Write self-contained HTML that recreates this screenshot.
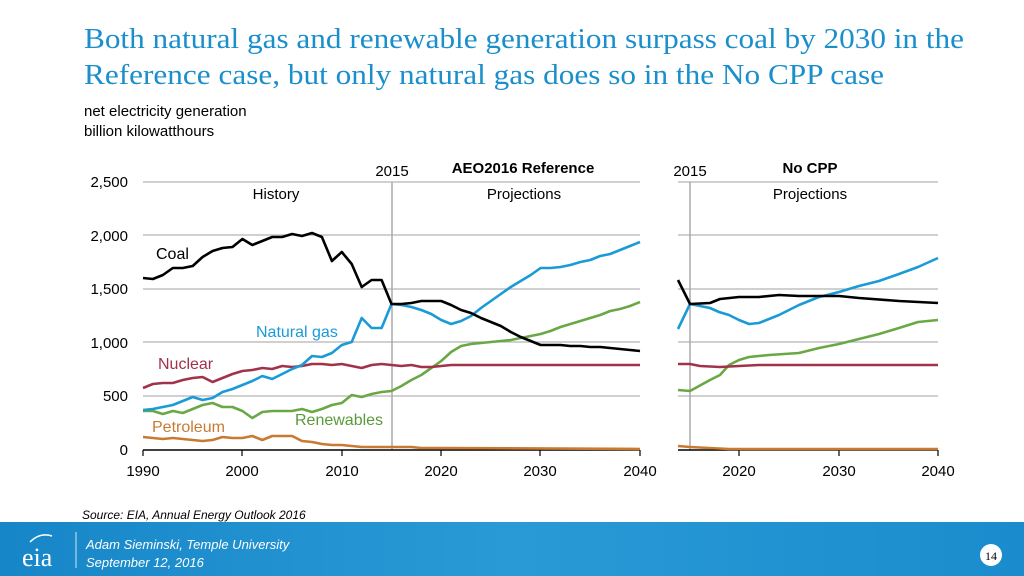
<!DOCTYPE html>
<html><head><meta charset="utf-8"><style>
html,body{margin:0;padding:0;width:1024px;height:576px;overflow:hidden;background:#fff}
svg{display:block}
text{font-family:"Liberation Sans",Arial,sans-serif}
</style></head><body>
<svg id="s" width="1024" height="576" viewBox="0 0 1024 576" xmlns="http://www.w3.org/2000/svg">
<defs>
<linearGradient id="bg" x1="0" y1="0" x2="1" y2="0">
<stop offset="0" stop-color="#1686c8"/><stop offset="0.5" stop-color="#2a9ad6"/><stop offset="1" stop-color="#1a8ccd"/>
</linearGradient>
</defs>
<text x="84" y="48" font-family="Liberation Serif,serif" font-size="29" fill="#1a8fcc" textLength="880" lengthAdjust="spacingAndGlyphs" style="font-family:'Liberation Serif',serif">Both natural gas and renewable generation surpass coal by 2030 in the</text>
<text x="84" y="84" font-family="Liberation Serif,serif" font-size="29" fill="#1a8fcc" textLength="800" lengthAdjust="spacingAndGlyphs" style="font-family:'Liberation Serif',serif">Reference case, but only natural gas does so in the No CPP case</text>
<text x="84" y="116" font-size="15" fill="#000">net electricity generation</text>
<text x="84" y="136" font-size="15" fill="#000">billion kilowatthours</text>
<g id="grid" stroke="#b4b4b4" stroke-width="1.3"></g>
<g font-size="15" fill="#000" text-anchor="end">
<text x="128" y="187">2,500</text><text x="128" y="241">2,000</text><text x="128" y="294">1,500</text>
<text x="128" y="348">1,000</text><text x="128" y="401">500</text><text x="128" y="455">0</text>
</g>
<line x1="392" y1="182" x2="392" y2="450" stroke="#aaa" stroke-width="1.5"/>
<line x1="690" y1="182" x2="690" y2="450" stroke="#aaa" stroke-width="1.5"/>
<line x1="143" y1="450" x2="640" y2="450" stroke="#000" stroke-width="1.5"/>
<line x1="678" y1="450" x2="938" y2="450" stroke="#000" stroke-width="1.5"/>
<g stroke="#000" stroke-width="1.2">
<line x1="143" y1="450" x2="143" y2="456"/><line x1="242" y1="450" x2="242" y2="456"/><line x1="342" y1="450" x2="342" y2="456"/><line x1="441" y1="450" x2="441" y2="456"/><line x1="540" y1="450" x2="540" y2="456"/><line x1="640" y1="450" x2="640" y2="456"/>
<line x1="739" y1="450" x2="739" y2="456"/><line x1="839" y1="450" x2="839" y2="456"/><line x1="938" y1="450" x2="938" y2="456"/>
</g>
<g font-size="15" fill="#000" text-anchor="middle">
<text x="143" y="476">1990</text><text x="242" y="476">2000</text><text x="342" y="476">2010</text><text x="441" y="476">2020</text><text x="540" y="476">2030</text><text x="640" y="476">2040</text>
<text x="739" y="476">2020</text><text x="839" y="476">2030</text><text x="938" y="476">2040</text>
<text x="392" y="176">2015</text><text x="690" y="176">2015</text>
<text x="276" y="199">History</text><text x="524" y="199">Projections</text><text x="810" y="199">Projections</text>
<text x="523" y="173" font-weight="bold">AEO2016 Reference</text><text x="810" y="173" font-weight="bold">No CPP</text>
</g>
<g font-size="16">
<text x="156" y="259" fill="#000">Coal</text>
<text x="256" y="337" fill="#1a9ad6">Natural gas</text>
<text x="158" y="369" fill="#a0334a">Nuclear</text>
<text x="295" y="425" fill="#5a9a3a">Renewables</text>
<text x="152" y="432" fill="#c87a32">Petroleum</text>
</g>
<g id="lines" fill="none" stroke-width="2.6" stroke-linejoin="round"></g>
<text x="82" y="519" font-size="12" font-style="italic" fill="#000">Source:  EIA, Annual Energy Outlook 2016</text>
<rect x="0" y="522" width="1024" height="54" fill="url(#bg)"/>
<text x="22" y="566" font-family="Liberation Serif,serif" font-size="26" fill="#fff" style="font-family:'Liberation Serif',serif">eia</text>
<path d="M30 542 q10 -10 22 -6" stroke="#fff" stroke-width="1.5" fill="none"/>
<line x1="76" y1="532" x2="76" y2="568" stroke="#cfe8f6" stroke-width="1"/>
<text x="86" y="549" font-size="13" font-style="italic" fill="#fff">Adam Sieminski, Temple University</text>
<text x="86" y="567" font-size="13" font-style="italic" fill="#fff">September 12, 2016</text>
<circle cx="991" cy="555" r="11" fill="#fff"/>
<text x="991" y="560" font-size="12" text-anchor="middle" fill="#000" style="font-family:'Liberation Serif',serif">14</text>
</svg>
<script>
var NS="http://www.w3.org/2000/svg";
var g=document.getElementById("grid");
[182,235,289,342,396].forEach(function(y){
 [[143,640],[678,938]].forEach(function(r){var l=document.createElementNS(NS,"line");l.setAttribute("x1",r[0]);l.setAttribute("x2",r[1]);l.setAttribute("y1",y);l.setAttribute("y2",y);g.appendChild(l);});
});
function X(yr){return 143+(yr-1990)*9.94;}
function seq(start,arr){return arr.map(function(v,i){return [X(start+i),v];});}
var L=document.getElementById("lines");
function pl(pts,c){var p=document.createElementNS(NS,"polyline");p.setAttribute("points",pts.map(function(a){return a[0].toFixed(1)+","+a[1];}).join(" "));p.setAttribute("stroke",c);L.appendChild(p);}
var coal=seq(1990,[278,279,275,268,268,266,257,251,248,247,239,245,241,237,237,234,236,233,237,261,252,264,287,280,280,304,304,303,301,301,301,305,310,313,318,322,326,332,337,341,345,345,345,346,346,347,347,348,349,350,351]);
var gas=seq(1990,[410,409,407,405,401,397,400,398,392,389,385,381,376,379,374,369,365,356,357,353,345,342,318,328,328,304,305,307,310,314,320,324,321,316,308,301,294,287,281,275,268,268,267,265,262,260,256,254,250,246,242]);
var nuc=seq(1990,[388,384,383,383,380,378,377,382,378,374,371,370,368,369,366,367,366,364,364,365,364,366,368,365,364,365,366,365,367,367,366,365,365,365,365,365,365,365,365,365,365,365,365,365,365,365,365,365,365,365,365]);
var ren=seq(1990,[411,411,414,411,413,409,405,403,407,407,411,418,412,411,411,411,409,412,409,405,403,395,397,394,392,391,386,380,375,368,361,352,346,344,343,342,341,340,338,336,334,331,327,324,321,318,315,311,309,306,302]);
var pet=seq(1990,[437,438,439,438,439,440,441,440,437,438,438,436,440,436,436,436,441,442,444,445,445,446,447,447,447,447,447,447,448,448,448]).concat([[X(2040),449]]);
pl(pet,"#c87a32");pl(ren,"#6aa845");pl(nuc,"#a0334a");pl(gas,"#1a9ad6");pl(coal,"#000");
pl([[678,446],[690,447],[729,449],[938,449]],"#c87a32");
pl([[678,390],[690,391],[710,380],[720,375],[729,365],[739,360],[749,357],[769,355],[799,353],[819,348],[839,344],[859,339],[879,334],[899,328],[918,322],[938,320]],"#6aa845");
pl([[678,364],[690,364],[700,366],[720,367],[739,366],[759,365],[938,365]],"#a0334a");
pl([[678,329],[690,304],[710,308],[719,312],[729,315],[739,320],[749,324],[759,323],[779,315],[799,305],[819,297],[839,292],[859,286],[879,281],[899,274],[918,267],[938,258]],"#1a9ad6");
pl([[678,280],[690,304],[710,303],[720,299],[739,297],[759,297],[779,295],[799,296],[839,296],[859,298],[899,301],[938,303]],"#000");
</script>
</body></html>
